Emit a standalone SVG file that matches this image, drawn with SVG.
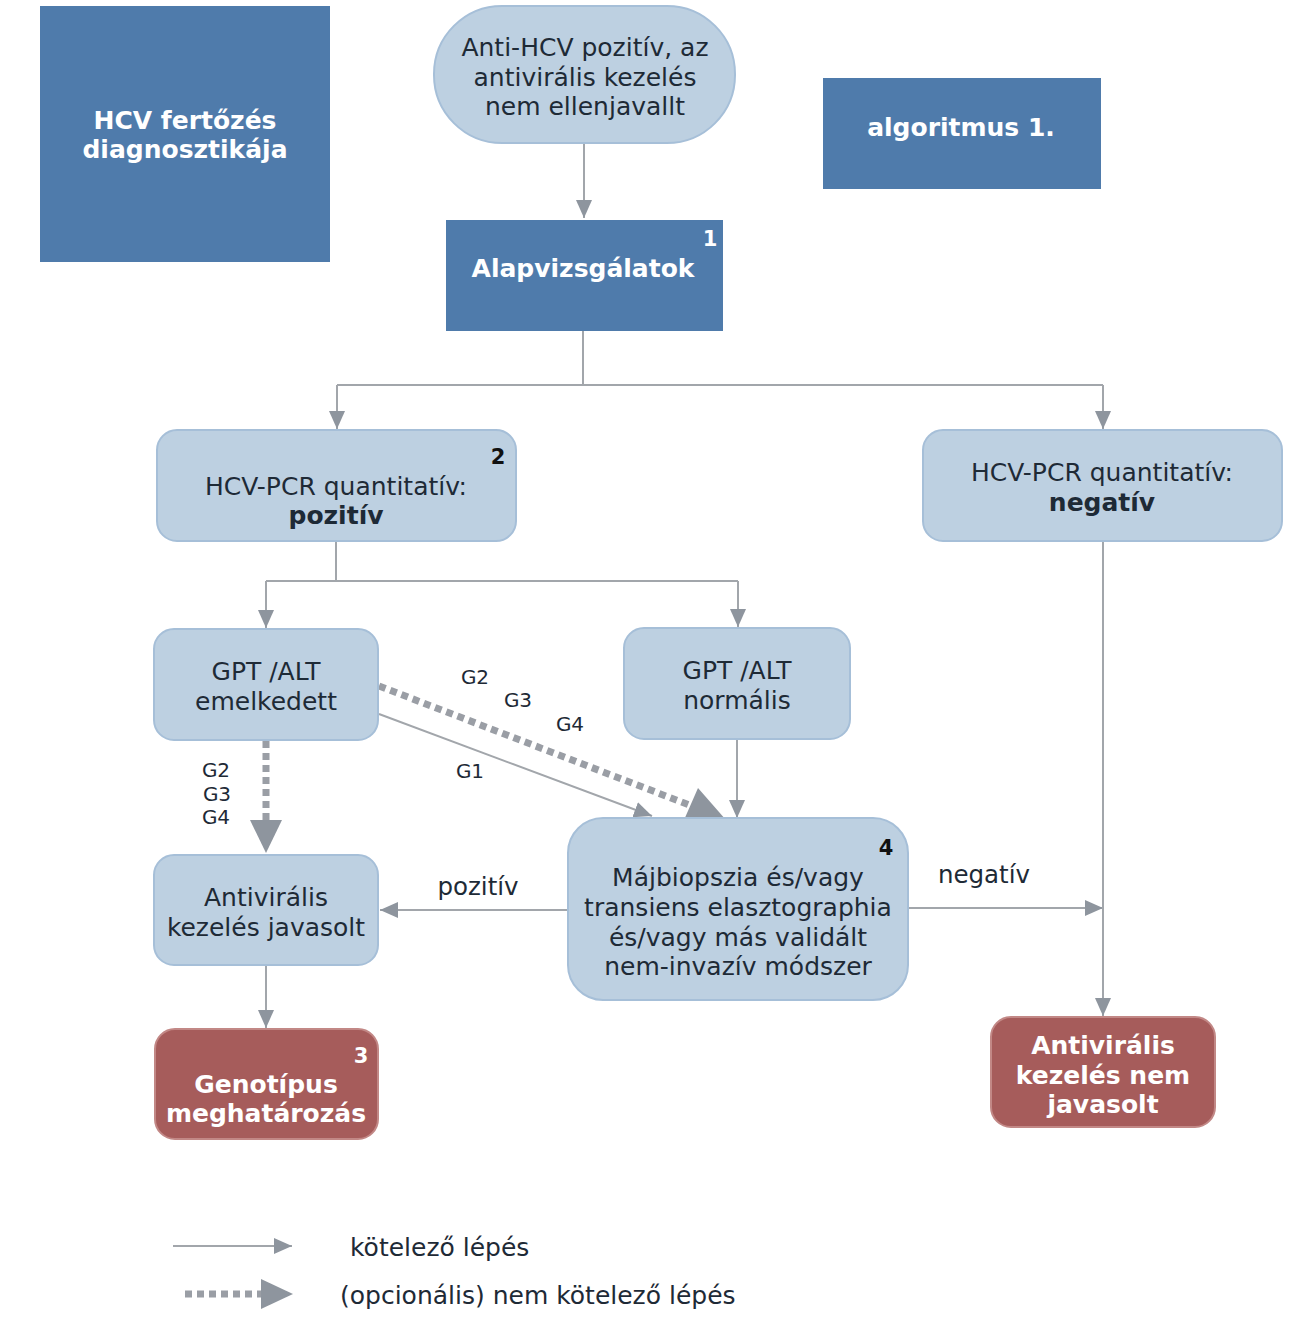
<svg xmlns="http://www.w3.org/2000/svg" width="1301" height="1333" viewBox="0 0 1301 1333">
<style>
.dark{fill:#4f7bab;}
.light{fill:#bdd0e1;stroke:#a6bfd8;stroke-width:2;}
.red{fill:#a65c5b;stroke:#c28886;stroke-width:2;}
.t{font-family:"DejaVu Sans","Verdana",sans-serif;font-size:25px;fill:#1e2a36;text-anchor:middle;}
.tb{font-family:"DejaVu Sans","Verdana",sans-serif;font-size:25px;font-weight:bold;fill:#ffffff;text-anchor:middle;}
.num{font-family:"DejaVu Sans",sans-serif;font-size:21px;font-weight:bold;text-anchor:middle;}
.lbl{font-family:"DejaVu Sans","Verdana",sans-serif;font-size:20px;fill:#1e2a36;text-anchor:middle;}
.thin{fill:none;stroke:#a2a6ab;stroke-width:2;}
.thick{fill:none;stroke:#9a9ea5;stroke-width:7;stroke-dasharray:7 5;}
</style>
<defs>
<marker id="a" markerUnits="userSpaceOnUse" markerWidth="20" markerHeight="18" refX="18" refY="9" orient="auto">
<path d="M0,1 L18,9 L0,17 Z" fill="#8e959e"/>
</marker>
</defs>

<g id="connectors">
<path class="thin" d="M584,143 V218" marker-end="url(#a)"/>
<path class="thin" d="M583,330 V385"/>
<path class="thin" d="M337,385 H1103"/>
<path class="thin" d="M337,385 V429" marker-end="url(#a)"/>
<path class="thin" d="M1103,385 V429" marker-end="url(#a)"/>
<path class="thin" d="M336,541 V581 M266,581 H738"/>
<path class="thin" d="M266,581 V628" marker-end="url(#a)"/>
<path class="thin" d="M738,581 V627" marker-end="url(#a)"/>
<path class="thick" d="M266,741 V820"/>
<path d="M250,820 L282,820 L266,853 Z" fill="#8e959e"/>
<path class="thick" d="M379,686 L692,806"/>
<path d="M684,820 L698,788 L726,820 Z" fill="#8e959e"/>
<path class="thin" d="M379,714 L652,816" marker-end="url(#a)"/>
<path class="thin" d="M737,740 V818" marker-end="url(#a)"/>
<path class="thin" d="M568,910 H380" marker-end="url(#a)"/>
<path class="thin" d="M908,908 H1103" marker-end="url(#a)"/>
<path class="thin" d="M1103,542 V1016" marker-end="url(#a)"/>
<path class="thin" d="M266,966 V1028" marker-end="url(#a)"/>
<text class="lbl" x="475" y="684">G2</text>
<text class="lbl" x="518" y="707">G3</text>
<text class="lbl" x="570" y="731">G4</text>
<text class="lbl" x="470" y="778">G1</text>
<text class="lbl" x="216" y="777">G2</text>
<text class="lbl" x="217" y="801">G3</text>
<text class="lbl" x="216" y="824">G4</text>
<text class="t" x="478" y="895" style="font-size:24.5px">pozitív</text>
<text class="t" x="984" y="883" style="font-size:24.5px">negatív</text>
</g>

<g id="title">
<rect class="dark" x="40" y="6" width="290" height="256"/>
<text class="tb" x="185" y="129">HCV fertőzés</text>
<text class="tb" x="185" y="158">diagnosztikája</text>
</g>

<g id="start">
<rect class="light" x="434" y="6" width="301" height="137" rx="68"/>
<text class="t" x="585" y="56">Anti-HCV pozitív, az</text>
<text class="t" x="585" y="86">antivirális kezelés</text>
<text class="t" x="585" y="115">nem ellenjavallt</text>
</g>

<g id="algoritmus">
<rect class="dark" x="823" y="78" width="278" height="111"/>
<text class="tb" x="961" y="136">algoritmus 1.</text>
</g>

<g id="alap">
<rect class="dark" x="446" y="220" width="277" height="111"/>
<text class="tb" x="583" y="277">Alapvizsgálatok</text>
<text class="num" x="710" y="246" fill="#ffffff">1</text>
</g>

<g id="pcr-pos">
<rect class="light" x="157" y="430" width="359" height="111" rx="20"/>
<text class="t" x="336" y="495">HCV-PCR quantitatív:</text>
<text class="t" x="336" y="524" font-weight="bold">pozitív</text>
<text class="num" x="498" y="464" fill="#111">2</text>
</g>

<g id="pcr-neg">
<rect class="light" x="923" y="430" width="359" height="111" rx="20"/>
<text class="t" x="1102" y="481">HCV-PCR quantitatív:</text>
<text class="t" x="1102" y="511" font-weight="bold">negatív</text>
</g>

<g id="gpt-emelkedett">
<rect class="light" x="154" y="629" width="224" height="111" rx="20"/>
<text class="t" x="266" y="680">GPT /ALT</text>
<text class="t" x="266" y="710">emelkedett</text>
</g>

<g id="gpt-normalis">
<rect class="light" x="624" y="628" width="226" height="111" rx="20"/>
<text class="t" x="737" y="679">GPT /ALT</text>
<text class="t" x="737" y="709">normális</text>
</g>

<g id="majbiopszia">
<rect class="light" x="568" y="818" width="340" height="182" rx="35"/>
<text class="num" x="886" y="855" fill="#111">4</text>
<text class="t" x="738" y="886">Májbiopszia és/vagy</text>
<text class="t" x="738" y="916">transiens elasztographia</text>
<text class="t" x="738" y="946">és/vagy más validált</text>
<text class="t" x="738" y="975">nem-invazív módszer</text>
</g>

<g id="javasolt">
<rect class="light" x="154" y="855" width="224" height="110" rx="20"/>
<text class="t" x="266" y="906">Antivirális</text>
<text class="t" x="266" y="936">kezelés javasolt</text>
</g>

<g id="genotipus">
<rect class="red" x="155" y="1029" width="223" height="110" rx="20"/>
<text class="num" x="361" y="1063" fill="#ffffff">3</text>
<text class="tb" x="266" y="1093">Genotípus</text>
<text class="tb" x="266" y="1122">meghatározás</text>
</g>

<g id="nem-javasolt">
<rect class="red" x="991" y="1017" width="224" height="110" rx="20"/>
<text class="tb" x="1103" y="1054">Antivirális</text>
<text class="tb" x="1103" y="1084">kezelés nem</text>
<text class="tb" x="1103" y="1113">javasolt</text>
</g>

<g id="legend">
<path class="thin" d="M173,1246 H292" marker-end="url(#a)"/>
<text class="t" x="350" y="1256" style="text-anchor:start">kötelező lépés</text>
<path class="thick" d="M185,1294 H262"/>
<path d="M261,1279 L293,1294 L261,1309 Z" fill="#8e959e"/>
<text class="t" x="340" y="1304" style="text-anchor:start">(opcionális) nem kötelező lépés</text>
</g>
</svg>
